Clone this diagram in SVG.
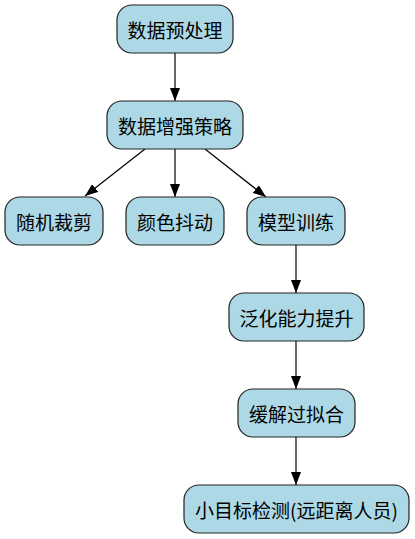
<svg xmlns="http://www.w3.org/2000/svg" width="415" height="539" viewBox="0 0 415 539">
<style>
.n rect{fill:#add8e6;stroke:#222;stroke-width:1.2}
.n text{font-family:"Noto Sans CJK SC","Noto Sans",sans-serif;font-size:19px;fill:#000;text-anchor:middle}
.e path{stroke:#000;stroke-width:1.2;fill:none;marker-end:url(#ah)}
</style>
<defs>
<marker id="ah" viewBox="0 0 13 10" refX="13" refY="5" markerWidth="13" markerHeight="10" markerUnits="userSpaceOnUse" orient="auto">
<path d="M0,0 L13,5 L0,10 z" fill="#000"/>
</marker>
</defs>
<g id="connectors" class="e">
<path d="M175,53 L175,101"/>
<path d="M145,149 L85,196"/>
<path d="M175,149 L175,197"/>
<path d="M205,149 L266,197"/>
<path d="M296,245 L296,293"/>
<path d="M296,341 L296,389"/>
<path d="M296,437 L296,485"/>
</g>
<g id="n1" class="n"><rect x="117" y="5" width="116" height="48" rx="15"/><text x="175" y="38">数据预处理</text></g>
<g id="n2" class="n"><rect x="107" y="101" width="136" height="48" rx="15"/><text x="175" y="134">数据增强策略</text></g>
<g id="n3" class="n"><rect x="5" y="197" width="98" height="48" rx="15"/><text x="54" y="230">随机裁剪</text></g>
<g id="n4" class="n"><rect x="126" y="197" width="98" height="48" rx="15"/><text x="175" y="230">颜色抖动</text></g>
<g id="n5" class="n"><rect x="247" y="197" width="98" height="48" rx="15"/><text x="296" y="230">模型训练</text></g>
<g id="n6" class="n"><rect x="229" y="293" width="135" height="48" rx="15"/><text x="296.5" y="326">泛化能力提升</text></g>
<g id="n7" class="n"><rect x="238" y="389" width="117" height="48" rx="15"/><text x="296.5" y="422">缓解过拟合</text></g>
<g id="n8" class="n"><rect x="184" y="485" width="225" height="48" rx="15"/><text x="296.5" y="518">小目标检测(远距离人员)</text></g>
</svg>
